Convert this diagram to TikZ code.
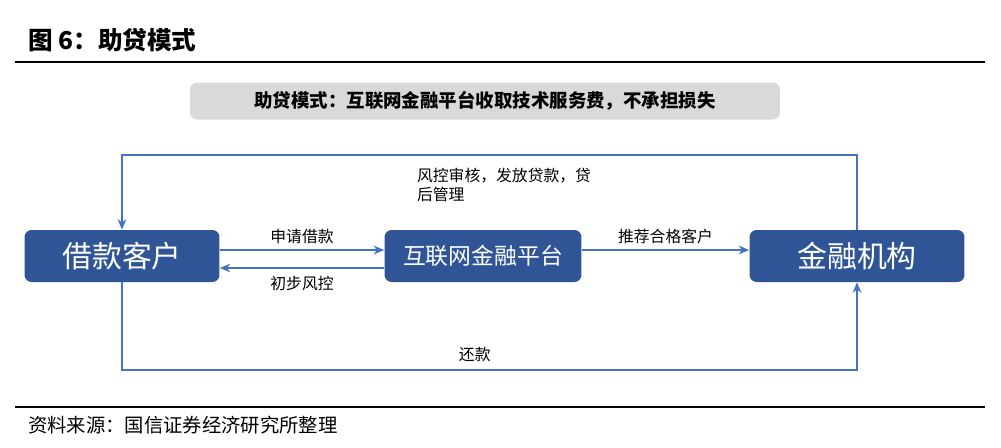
\documentclass[tikz,border=0pt]{standalone}
\usepackage{fontspec}
\setmainfont{Noto Sans CJK SC}
\usetikzlibrary{arrows.meta}
\definecolor{boxblue}{HTML}{2F5597}
\definecolor{linblue}{HTML}{4472C4}
\begin{document}
\begin{tikzpicture}[x=0.02cm,y=-0.02cm,
  bluebox/.style={fill=boxblue,rounded corners=4pt,text=white,minimum height=1.04cm,inner sep=0pt},
  conn/.style={draw=linblue,line width=0.8pt,-{Stealth[length=6pt,width=5pt]}},
  lab/.style={font=\fontsize{9}{11}\selectfont,text=black,inner sep=1pt}]
\useasboundingbox (0,0) rectangle (1001,447);
\draw[line width=0.8pt] (15,62) -- (985,62);
\draw[line width=0.6pt] (15,407) -- (985,407);
\node[anchor=west,font=\bfseries\fontsize{14}{16}\selectfont] (title) at (22,40) {图 6：助贷模式};
\node[anchor=west,font=\fontsize{11}{13}\selectfont] (src) at (22,425) {资料来源：国信证券经济研究所整理};
\node[fill=gray!30,rounded corners=4pt,minimum width=11.8cm,minimum height=0.74cm,font=\bfseries\fontsize{10.5}{12}\selectfont] (hdr) at (485,101) {助贷模式：互联网金融平台收取技术服务费，不承担损失};
\node[bluebox,minimum width=3.9cm,font=\fontsize{17}{20}\selectfont] (c) at (122,256) {借款客户};
\node[bluebox,minimum width=3.94cm,font=\fontsize{13}{15}\selectfont] (p) at (483,256) {互联网金融平台};
\node[bluebox,minimum width=4.3cm,font=\fontsize{17}{20}\selectfont] (f) at (857,256) {金融机构};
\draw[conn] (c.east|-0,250) -- node[lab,above=2pt]{申请借款} (p.west|-0,250);
\draw[conn] (p.west|-0,268) -- node[lab,below=3pt]{初步风控} (c.east|-0,268);
\draw[conn] (p.east|-0,250) -- node[lab,above=2pt]{推荐合格客户} (f.west|-0,250);
\coordinate (t1) at (857,155);
\coordinate (t2) at (122,155);
\draw[conn] (f.north) -- (t1) -- (t2) -- (c.north);
\coordinate (b1) at (122,370);
\coordinate (b2) at (857,370);
\draw[conn] (c.south) -- (b1) -- node[lab,above=3pt,pos=0.48]{还款} (b2) -- (f.south);
\node[lab,anchor=north west,align=left] (rk) at (415,166) {风控审核，发放贷款，贷\\后管理};
\end{tikzpicture}
\end{document}
